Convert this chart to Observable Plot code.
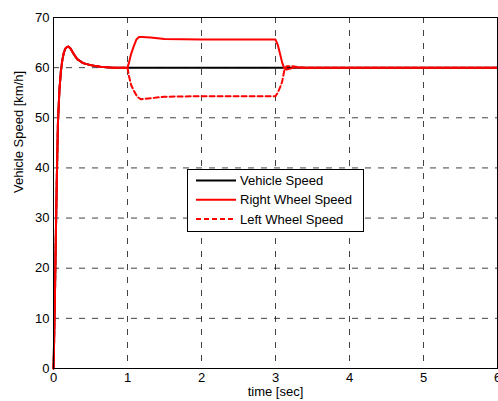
<!DOCTYPE html>
<html>
<head>
<meta charset="utf-8">
<script src="https://cdn.jsdelivr.net/npm/d3@7"></script>
<script src="https://cdn.jsdelivr.net/npm/@observablehq/plot@0.6"></script>
<style>
  html, body { margin: 0; padding: 0; background: #fff; }
  #wrap { position: relative; width: 498px; height: 401px; overflow: hidden; }
  #legend { position: absolute; left: 187px; top: 169px; }
</style>
</head>
<body>
<div id="wrap"></div>
<script>
// Start-up transient (shared by vehicle and both wheels until the turn at t = 1 s)
const startTime  = [0, 0.005, 0.01, 0.02, 0.03, 0.045, 0.06, 0.08, 0.1, 0.12, 0.14, 0.16, 0.18, 0.2, 0.23, 0.27, 0.32, 0.4, 0.5, 0.63, 0.8, 1.0];
const startSpeed = [0, 3, 7, 15, 25, 38, 49, 55.5, 59.3, 61.6, 63, 63.8, 64.1, 64.2, 63.8, 62.8, 61.7, 60.9, 60.5, 60.2, 60.0, 60.0];

// Vehicle speed after the transient
const vehicleTime  = [1.0, 6.0];
const vehicleSpeed = [60, 60];

// Right (outer) wheel speed during and after the turn
const rightTime  = [1.0, 1.02, 1.05, 1.085, 1.12, 1.155, 1.2, 1.31, 1.5, 2.0, 2.5, 3.0, 3.03, 3.06, 3.09, 3.12, 3.15, 3.2, 3.27, 3.35, 3.45, 6.0];
const rightSpeed = [60, 61, 62.8, 64.3, 65.6, 66.1, 66.1, 66.0, 65.7, 65.6, 65.6, 65.6, 64.6, 62.8, 61.0, 59.8, 59.6, 59.8, 60.1, 60.0, 60.0, 60.0];

// Left (inner) wheel speed during and after the turn
const leftTime  = [1.0, 1.02, 1.05, 1.09, 1.13, 1.18, 1.31, 1.5, 2.0, 2.5, 3.0, 3.03, 3.06, 3.09, 3.12, 3.15, 3.22, 3.3, 3.4, 6.0];
const leftSpeed = [60, 58.3, 56.5, 55.3, 54.2, 53.7, 53.9, 54.2, 54.3, 54.3, 54.3, 55.0, 56.0, 57.2, 59.5, 60.3, 60.3, 60.1, 60.0, 60.0];

const xTicks = [0, 1, 2, 3, 4, 5, 6];
const yTicks = [0, 10, 20, 30, 40, 50, 60, 70];

const seriesNames = ["Vehicle Speed", "Right Wheel Speed", "Left Wheel Speed"];

const toRows = (ts, vs) => ts.map((t, i) => ({t, v: vs[i]}));
const start = toRows(startTime, startSpeed);
const vehicle = start.concat(toRows(vehicleTime, vehicleSpeed));
const right = start.concat(toRows(rightTime, rightSpeed));
const left = start.concat(toRows(leftTime, leftSpeed));

const gridStyle = {stroke: "#222", strokeOpacity: 0.85, strokeWidth: 1, strokeDasharray: "6,7"};

const chart = Plot.plot({
  width: 498,
  height: 401,
  marginLeft: 53,
  marginRight: 1,
  marginTop: 17,
  marginBottom: 33,
  style: {fontFamily: "'Liberation Sans', Arial, sans-serif", fontSize: "13px", color: "#000", background: "#fff"},
  x: {domain: [0, 6], ticks: xTicks},
  y: {domain: [0, 70], ticks: yTicks},
  marks: [
    Plot.gridX(xTicks, {...gridStyle}),
    Plot.gridY(yTicks, {...gridStyle}),
    Plot.axisX(xTicks, {tickSize: 0, tickPadding: 4, label: null, fontSize: 13}),
    Plot.axisY(yTicks, {tickSize: 0, tickPadding: 4, label: null, fontSize: 13}),
    Plot.text(["time [sec]"], {frameAnchor: "bottom", dy: 27, fontSize: 13}),
    Plot.text(["Vehicle Speed [km/h]"], {frameAnchor: "left", dx: -35, rotate: -90, fontSize: 13}),
    Plot.line(vehicle, {x: "t", y: "v", stroke: "#000", strokeWidth: 2}),
    Plot.line(right, {x: "t", y: "v", stroke: "#ff0000", strokeWidth: 2}),
    Plot.line(left, {x: "t", y: "v", stroke: "#ff0000", strokeWidth: 2, strokeDasharray: "5,3"}),
    Plot.frame({stroke: "#000", strokeWidth: 1})
  ]
});

const wrap = document.getElementById("wrap");
wrap.appendChild(chart);

// Legend box drawn inside the axes area
const legend = d3.create("svg")
  .attr("id", "legend")
  .attr("width", 177)
  .attr("height", 63)
  .style("font-family", "'Liberation Sans', Arial, sans-serif")
  .style("font-size", "13px");
legend.append("rect")
  .attr("x", 0.5).attr("y", 0.5).attr("width", 176).attr("height", 62)
  .attr("fill", "#fff").attr("stroke", "#000").attr("stroke-width", 1);
const entries = [
  {name: seriesNames[0], stroke: "#000", dash: null},
  {name: seriesNames[1], stroke: "#ff0000", dash: null},
  {name: seriesNames[2], stroke: "#ff0000", dash: "5,3"}
];
entries.forEach((e, i) => {
  const y = 11.5 + i * 19.3;
  legend.append("line")
    .attr("x1", 9).attr("x2", 49).attr("y1", y).attr("y2", y)
    .attr("stroke", e.stroke).attr("stroke-width", 2)
    .attr("stroke-dasharray", e.dash);
  legend.append("text")
    .attr("x", 53).attr("y", y).attr("dy", "0.35em")
    .attr("fill", "#000")
    .text(e.name);
});
wrap.appendChild(legend.node());
</script>
</body>
</html>
